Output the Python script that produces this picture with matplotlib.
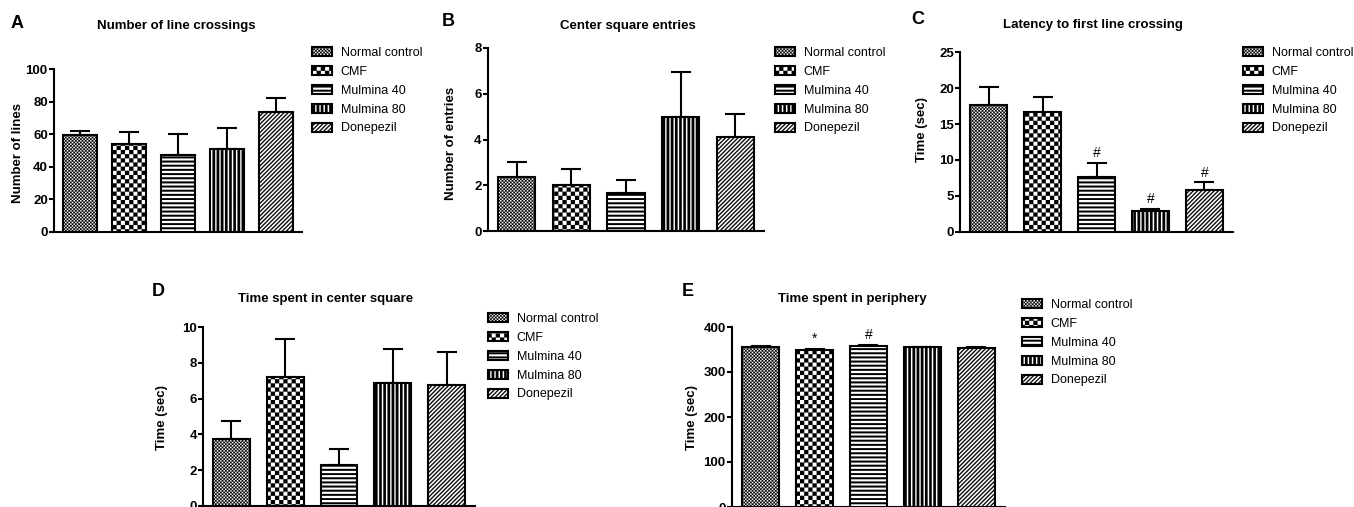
import warnings
import matplotlib
matplotlib.use("Agg")
import matplotlib.pyplot as plt
import matplotlib.hatch as mhatch
from matplotlib.path import Path
import numpy as np

warnings.filterwarnings("ignore")
plt.rcParams['font.family'] = ['Liberation Sans', 'DejaVu Sans']
plt.rcParams['hatch.linewidth'] = 0.1

W, H = 1354, 507

groups = ["Normal control", "CMF", "Mulmina 40", "Mulmina 80", "Donepezil"]
# c = checker, h = horizontal stripes, v = vertical stripes, d = diagonal stripes
hatches = ["ccccc", "cc", "hhhh", "vvvv", "dddd"]

crossings = [59.5, 54.0, 47.4, 50.9, 73.9]
crossings_err = [2.5, 7.6, 12.6, 12.8, 8.6]

entries = [2.37, 2.0, 1.64, 5.0, 4.12]
entries_err = [0.66, 0.69, 0.58, 1.97, 0.98]

latency = [17.7, 16.6, 7.7, 2.87, 5.9]
latency_err = [2.4, 2.2, 1.9, 0.37, 1.0]
latency_marks = ["", "", "#", "#", "#"]

center_time = [3.77, 7.18, 2.28, 6.88, 6.77]
center_time_err = [1.0, 2.17, 0.89, 1.89, 1.83]

periphery = [356, 349, 358, 355, 354]
periphery_err = [1.0, 2.0, 2.0, 1.0, 1.0]
periphery_marks = ["", "*", "#", "", ""]


class FilledTiles(mhatch.HatchPatternBase):
    """Filled hatch shapes (checkerboard and solid stripes), like GraphPad fills."""

    def __init__(self, hatch, density):
        polys = []
        nc = hatch.count('c') * density
        if nc:
            cells = 2 * nc
            s = 1.0 / cells
            for i in range(cells):
                for j in range(cells):
                    if (i + j) % 2 == 0:
                        polys.append([(i * s, j * s), ((i + 1) * s, j * s),
                                      ((i + 1) * s, (j + 1) * s), (i * s, (j + 1) * s)])
        nh = hatch.count('h') * density
        if nh:
            p = 1.0 / nh
            for k in range(nh):
                y0 = k * p
                polys.append([(0, y0), (1, y0), (1, y0 + 0.45 * p), (0, y0 + 0.45 * p)])
        nv = hatch.count('v') * density
        if nv:
            p = 1.0 / nv
            for k in range(nv):
                x0 = k * p
                polys.append([(x0, 0), (x0 + 0.62 * p, 0), (x0 + 0.62 * p, 1), (x0, 1)])
        nd = hatch.count('d') * density
        if nd:
            p = 1.0 / nd
            for k in range(-nd, nd):
                x0 = k * p
                polys.append([(x0, 0), (x0 + 0.4 * p, 0), (x0 + 0.4 * p + 1, 1), (x0 + 1, 1)])
        self.polys = polys
        self.num_vertices = 5 * len(polys)

    def set_vertices_and_codes(self, vertices, codes):
        for k, poly in enumerate(self.polys):
            vertices[5 * k:5 * k + 4] = poly
            vertices[5 * k + 4] = poly[0]
            codes[5 * k] = Path.MOVETO
            codes[5 * k + 1:5 * k + 4] = Path.LINETO
            codes[5 * k + 4] = Path.CLOSEPOLY


mhatch._hatch_types.append(FilledTiles)


def px_axes(fig, left, right, top, bottom):
    return fig.add_axes([left / W, 1 - bottom / H, (right - left) / W, (bottom - top) / H])


def draw_panel(fig, box, means, errs, ylim, yticks, title, title_xy, letter, letter_xy,
               ylabel, ylabel_xy, legend_xy, marks=None):
    ax = px_axes(fig, *box)
    x = np.arange(len(means))
    for i in range(len(means)):
        ax.bar(x[i], means[i], width=0.68, color="white", edgecolor="black",
               linewidth=1.5, hatch=hatches[i], label=groups[i], zorder=3)
    ax.errorbar(x, means, yerr=[np.zeros(len(errs)), errs], fmt="none", ecolor="black",
                elinewidth=1.5, capsize=7, capthick=1.5, zorder=2)
    if marks:
        for i, m in enumerate(marks):
            if m:
                ax.annotate(m, (x[i], means[i] + errs[i]), xytext=(0, 2),
                            textcoords="offset points", ha="center", va="bottom", fontsize=10)
    ax.set_xlim(-0.53, 4.53)
    ax.set_ylim(*ylim)
    ax.set_yticks(yticks)
    ax.set_xticks([])
    ax.spines['top'].set_visible(False)
    ax.spines['right'].set_visible(False)
    ax.spines['left'].set_linewidth(1.5)
    ax.spines['bottom'].set_linewidth(1.5)
    ax.tick_params(axis='y', direction='out', length=3.5, width=1.5, labelsize=9.5, pad=1)
    for t in ax.get_yticklabels():
        t.set_fontweight('bold')
    ax.patch.set_visible(False)

    fig.text(title_xy[0] / W, 1 - title_xy[1] / H, title, ha="center", va="center",
             fontsize=9.5, fontweight="bold")
    fig.text(letter_xy[0] / W, 1 - letter_xy[1] / H, letter, ha="left", va="center",
             fontsize=13, fontweight="bold")
    fig.text(ylabel_xy[0] / W, 1 - ylabel_xy[1] / H, ylabel, ha="center", va="center",
             rotation=90, fontsize=9.5, fontweight="bold")
    leg = ax.legend(loc="upper left", bbox_to_anchor=(legend_xy[0] / W, 1 - legend_xy[1] / H),
                    bbox_transform=fig.transFigure, frameon=False, fontsize=9,
                    handlelength=1.6, handleheight=0.75, handletextpad=0.7,
                    labelspacing=0.55, borderpad=0, borderaxespad=0)
    for h in leg.legend_handles:
        h.set_linewidth(1.5)
    return ax


def main():
    fig = plt.figure(figsize=(W / 100, H / 100), dpi=100)

    draw_panel(fig, (54, 302, 69, 232), crossings, crossings_err, (0, 100), range(0, 101, 20),
               "Number of line crossings", (176, 26), "A", (11, 23),
               "Number of lines", (18, 153), (312, 47))
    draw_panel(fig, (488, 764, 48, 231), entries, entries_err, (0, 8), range(0, 9, 2),
               "Center square entries", (628, 26), "B", (442, 21),
               "Number of entries", (451, 143), (775, 47))
    draw_panel(fig, (960, 1233, 52, 232), latency, latency_err, (0, 25), range(0, 26, 5),
               "Latency to first line crossing", (1093, 25), "C", (911, 19),
               "Time (sec)", (922, 130), (1243, 47), marks=latency_marks)
    draw_panel(fig, (203, 475, 327, 506), center_time, center_time_err, (0, 10), range(0, 11, 2),
               "Time spent in center square", (326, 299), "D", (152, 292),
               "Time (sec)", (162, 417), (488, 313))
    draw_panel(fig, (732, 1005, 327, 507), periphery, periphery_err, (0, 400), range(0, 401, 100),
               "Time spent in periphery", (852, 299), "E", (682, 292),
               "Time (sec)", (692, 417), (1022, 299), marks=periphery_marks)

    fig.savefig("out.png", dpi=100)


if __name__ == "__main__":
    main()
